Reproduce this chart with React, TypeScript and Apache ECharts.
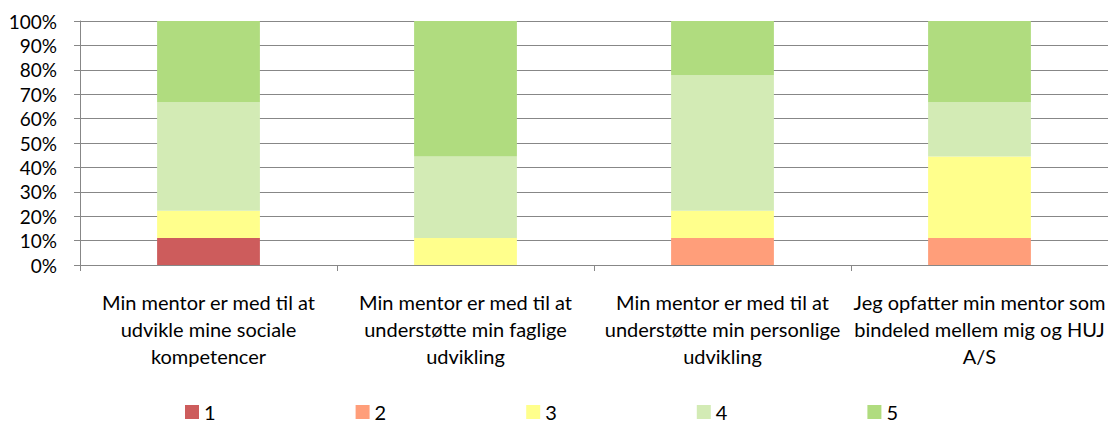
import React, { useEffect, useRef } from "react";
import * as echarts from "echarts";

const categories = [
  "Min mentor er med til at\nudvikle mine sociale\nkompetencer",
  "Min mentor er med til at\nunderstøtte min faglige\nudvikling",
  "Min mentor er med til at\nunderstøtte min personlige\nudvikling",
  "Jeg opfatter min mentor som\nbindeled mellem mig og HUJ\nA/S",
];
const seriesNames = ["1", "2", "3", "4", "5"];
// Answer counts per category (out of 9 respondents)
const s1 = [1, 0, 0, 0];
const s2 = [0, 0, 1, 1];
const s3 = [1, 1, 1, 3];
const s4 = [4, 3, 5, 2];
const s5 = [3, 5, 2, 3];
const colors = ["#CD5C5C", "#FF9E7A", "#FFFF8C", "#D3EBB5", "#B0DC7F"];

export default function App() {
  const ref = useRef<HTMLDivElement>(null);
  useEffect(() => {
    if (!ref.current) return;
    const chart = echarts.init(ref.current, undefined, { renderer: "svg" });
    const all = [s1, s2, s3, s4, s5];
    const totals = categories.map((_, i) => all.reduce((a, s) => a + s[i], 0));
    const font = "Lato, 'Noto Sans', sans-serif";
    chart.setOption({
      animation: false,
      textStyle: { fontFamily: font },
      grid: { left: 80, right: -8, top: 21, bottom: 163, containLabel: false },
      legend: {
        left: 185,
        top: 402,
        padding: 0,
        itemWidth: 14,
        itemHeight: 14,
        itemGap: 140,
        icon: "rect",
        textStyle: { fontSize: 20, lineHeight: 20, color: "#000", fontFamily: font },
        data: seriesNames,
      },
      xAxis: {
        type: "category",
        data: categories,
        axisLine: { lineStyle: { color: "#878787", width: 1 } },
        axisTick: { show: true, length: 6, lineStyle: { color: "#878787" } },
        axisLabel: {
          interval: 0,
          color: "#000",
          fontSize: 20,
          lineHeight: 27,
          margin: 23,
          fontFamily: font,
        },
      },
      yAxis: {
        type: "value",
        min: 0,
        max: 100,
        interval: 10,
        axisLine: { show: true, lineStyle: { color: "#878787" } },
        axisTick: { show: true, length: 6, lineStyle: { color: "#878787" } },
        splitLine: { lineStyle: { color: "#878787", width: 1 } },
        axisLabel: {
          formatter: "{value}%",
          color: "#000",
          fontSize: 19,
          margin: 23,
          fontFamily: font,
        },
      },
      series: all.map((s, k) => ({
        name: seriesNames[k],
        type: "bar",
        stack: "total",
        barWidth: "40%",
        itemStyle: { color: colors[k] },
        data: s.map((v, i) => (v / totals[i]) * 100),
      })),
    });
    return () => chart.dispose();
  }, []);
  return <div ref={ref} style={{ width: 1108, height: 428, position: "absolute", left: 0, top: 0 }} />;
}
